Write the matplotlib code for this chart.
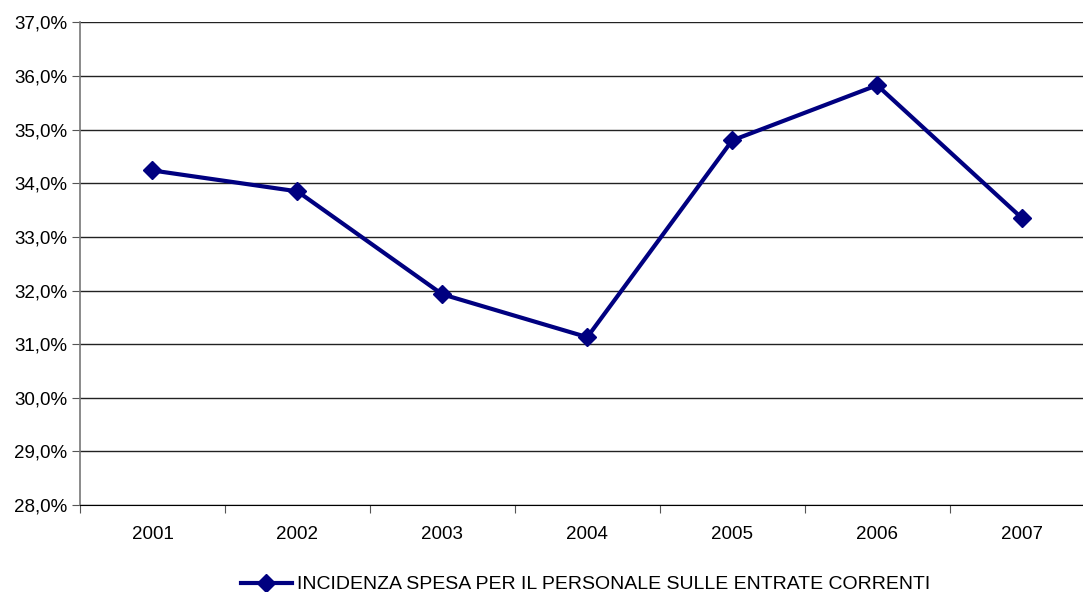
import matplotlib
matplotlib.use("Agg")
import matplotlib.pyplot as plt
from matplotlib.ticker import FuncFormatter, FixedLocator
import numpy as np

plt.rcParams["font.family"] = ["Liberation Sans", "DejaVu Sans"]

years = ["2001", "2002", "2003", "2004", "2005", "2006", "2007"]
incidenza = [34.24, 33.85, 31.93, 31.13, 34.80, 35.83, 33.35]
label = "INCIDENZA SPESA PER IL PERSONALE SULLE ENTRATE CORRENTI"

fig = plt.figure(figsize=(10.83, 5.92), dpi=100)
ax = fig.add_axes([0.0739, 0.147, 1.0106 - 0.0739, 0.962 - 0.147])

x = np.arange(len(years))
ax.plot(x, incidenza, color="#000080", linewidth=3, marker="D", markersize=9.5,
        label=label, zorder=3)

ax.set_ylim(28, 37)
ax.set_yticks(np.arange(28, 37.1, 1))
ax.yaxis.set_major_formatter(FuncFormatter(lambda v, p: f"{v:.1f}%".replace(".", ",")))
ax.set_xlim(-0.5, len(years) - 0.5)
ax.xaxis.set_major_locator(FixedLocator(np.arange(-0.5, len(years), 1)))
ax.xaxis.set_minor_locator(FixedLocator(x))
ax.set_xticklabels([])
ax.set_xticklabels(years, minor=True)
ax.tick_params(axis="x", which="minor", length=0, pad=15, labelsize=13.5)
ax.tick_params(axis="x", which="major", length=6, color="#555555")
ax.tick_params(axis="y", length=6, labelsize=13.5, color="#555555", pad=3)

ax.grid(axis="y", color="#222222", linewidth=1)
ax.set_axisbelow(True)
for s in ["top", "right"]:
    ax.spines[s].set_visible(False)
ax.spines["left"].set_color("#777777")
ax.spines["left"].set_linewidth(1.2)
ax.spines["bottom"].set_color("#000000")

fig.legend(loc="lower center", bbox_to_anchor=(0.541, -0.032), frameon=False,
           fontsize=14, handlelength=2.6, handletextpad=0.3)

fig.savefig("out.png", dpi=100)
